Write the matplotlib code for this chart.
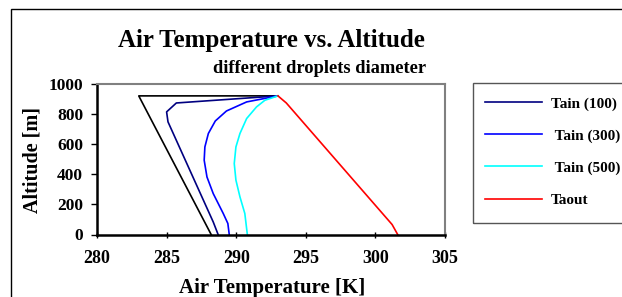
import matplotlib.pyplot as plt
from matplotlib.patches import Rectangle

# temperature [K] and altitude [m]
black_t = [288.2, 283.0, 292.7]
black_h = [0, 918, 918]

tain100_t = [288.7, 288.35, 285.1, 285.0, 285.7, 293.0]
tain100_h = [0, 83, 746, 812, 871, 918]

tain300_t = [289.5, 289.4, 289.07, 288.35, 287.9, 287.7, 287.75, 288.0, 288.5, 289.3, 290.75, 293.0]
tain300_h = [0, 73, 139, 271, 381, 492, 580, 669, 752, 818, 878, 918]

tain500_t = [290.8, 290.62, 290.27, 289.98, 289.86, 289.98, 290.27, 290.75, 291.46, 292.06, 293.0]
tain500_h = [0, 139, 249, 360, 470, 580, 669, 768, 845, 889, 918]

taout_t = [301.6, 301.2, 293.6, 293.0]
taout_h = [0, 66, 871, 918]

xticks = [280, 285, 290, 295, 300, 305]
yticks = [0, 200, 400, 600, 800, 1000]

W, H = 622, 297
plt.rcParams['font.family'] = ['Liberation Serif', 'DejaVu Serif']
plt.rcParams['font.weight'] = 'bold'

fig = plt.figure(figsize=(W / 100, H / 100), dpi=100)


def fx(px):
    return px / W


def fy(py):
    return 1 - py / H


# outer frame
fig.patches.append(Rectangle((fx(11), fy(320)), fx(640) - fx(11), fy(9) - fy(320),
                             transform=fig.transFigure, fill=False, edgecolor='black', lw=1))

ax = fig.add_axes([fx(97), fy(234.5), fx(445) - fx(97), fy(83.5) - fy(234.5)])
ax.plot(black_t, black_h, color='black', lw=1.2)
ax.plot(tain100_t, tain100_h, color='#000080', lw=1.2, label='Tain (100)')
ax.plot(tain300_t, tain300_h, color='#0000FF', lw=1.2, label=' Tain (300)')
ax.plot(tain500_t, tain500_h, color='#00FFFF', lw=1.2, label=' Tain (500)')
ax.plot(taout_t, taout_h, color='#FF0000', lw=1.2, label='Taout')

ax.set_xlim(280, 305)
ax.set_ylim(0, 1000)
ax.set_xticks(xticks)
ax.set_yticks(yticks)
ax.tick_params(axis='both', length=4, width=1)
ax.tick_params(axis='x', direction='inout', labelsize=13, pad=9)
ax.tick_params(axis='y', labelsize=12.5, pad=6)
for lab in ax.get_xticklabels() + ax.get_yticklabels():
    lab.set_fontweight('bold')
for s in ['top', 'right']:
    ax.spines[s].set_color('#808080')
    ax.spines[s].set_linewidth(1.5)
for s in ['left', 'bottom']:
    ax.spines[s].set_linewidth(1.8)

fig.text(fx(272), fy(288), 'Air Temperature [K]', fontsize=15, fontweight='bold',
         ha='center', va='center')
fig.text(fx(32), fy(160), 'Altitude [m]', fontsize=14.5, fontweight='bold',
         ha='center', va='center', rotation=90)

fig.text(fx(271), fy(40), 'Air Temperature vs. Altitude', fontsize=18, fontweight='bold',
         ha='center', va='center')
fig.text(fx(320), fy(68), 'different droplets diameter', fontsize=13.3, fontweight='bold',
         ha='center', va='center')

# legend box
fig.patches.append(Rectangle((fx(473), fy(223)), fx(700) - fx(473), fy(83) - fy(223),
                             transform=fig.transFigure, fill=False, edgecolor='#555555', lw=1))
leg = fig.legend(loc='upper left', bbox_to_anchor=(fx(473), fy(84.5)), frameon=False,
                 prop={'weight': 'bold', 'size': 11}, handlelength=3.7,
                 handletextpad=0.6, labelspacing=1.2, borderpad=0.3)

fig.savefig('out.png', dpi=100)
